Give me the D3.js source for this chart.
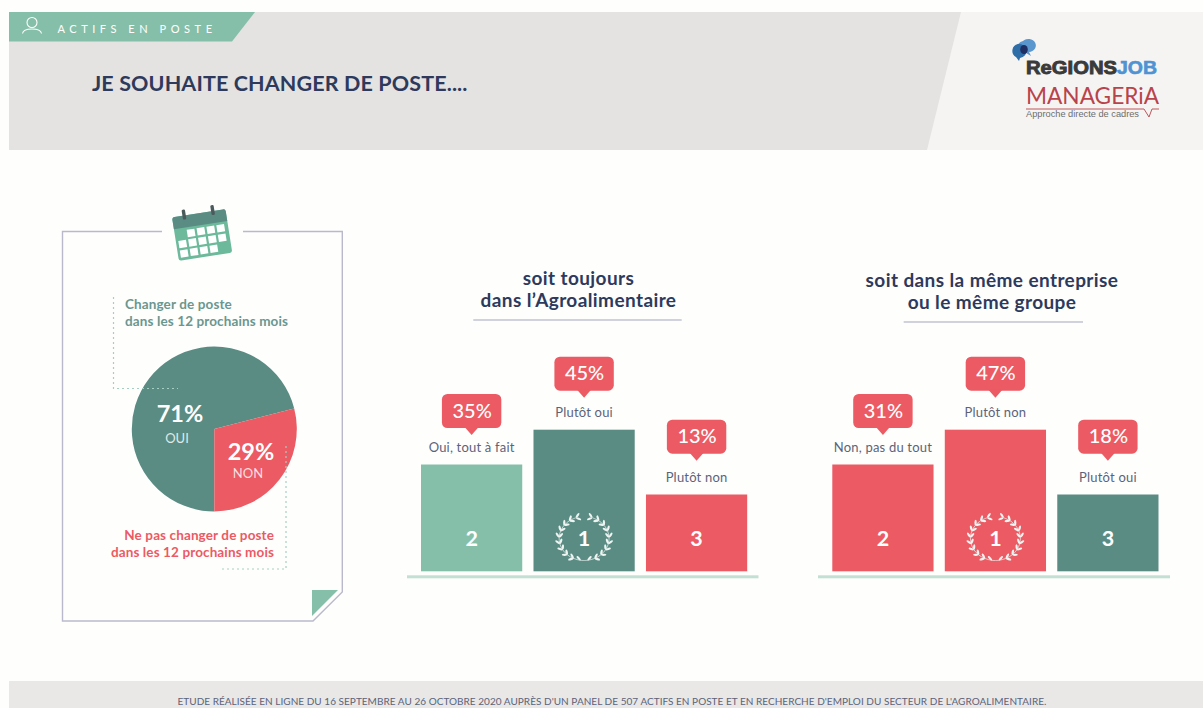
<!DOCTYPE html>
<html lang="fr">
<head>
<meta charset="utf-8">
<title>Je souhaite changer de poste</title>
<script src="https://cdn.jsdelivr.net/npm/d3@7"></script>
<style>
  html, body { margin: 0; padding: 0; background: #fefefd; }
  svg { display: block; font-family: Lato, "Open Sans", sans-serif; }
</style>
</head>
<body>
<div id="chart"></div>
<script>
// Data
const pieLabels = ["OUI", "NON"];
const pieValues = [71, 29];

const agroTitle = ["soit toujours", "dans l’Agroalimentaire"];
const agroCategories = ["Oui, tout à fait", "Plutôt oui", "Plutôt non"];
const agroValues = [35, 45, 13];
const agroRanks = [2, 1, 3];

const groupTitle = ["soit dans la même entreprise", "ou le même groupe"];
const groupCategories = ["Non, pas du tout", "Plutôt non", "Plutôt oui"];
const groupValues = [31, 47, 18];
const groupRanks = [2, 1, 3];

const footerText = "ETUDE RÉALISÉE EN LIGNE DU 16 SEPTEMBRE AU 26 OCTOBRE 2020 AUPRÈS D'UN PANEL DE 507 ACTIFS EN POSTE ET EN RECHERCHE D'EMPLOI DU SECTEUR DE L'AGROALIMENTAIRE.";

const navy = "#2d3a5c";
const teal = "#5a8c84";
const mint = "#85bfa9";
const red = "#ec5a63";
const line = "#b9b9cd";

const svg = d3.select("#chart").append("svg")
  .attr("width", 1203)
  .attr("height", 708);

function txt(parent, x, y, s, size, fill, weight, anchor, spacing) {
  return parent.append("text")
    .attr("x", x)
    .attr("y", y)
    .attr("font-size", size)
    .attr("fill", fill)
    .attr("font-weight", weight || 400)
    .attr("text-anchor", anchor || "start")
    .attr("letter-spacing", spacing || 0)
    .text(s);
}

// Header band
svg.append("rect").attr("x", 9).attr("y", 12).attr("width", 1194).attr("height", 138).attr("fill", "#f5f4f3");
svg.append("polygon").attr("points", "9,12 961,12 927,150 9,150").attr("fill", "#e4e3e1");
svg.append("polygon").attr("points", "9,12 255,12 232,41.5 9,41.5").attr("fill", mint);

// Person icon
const person = svg.append("g").attr("fill", "none").attr("stroke", "#fff").attr("stroke-width", 1.1);
person.append("circle").attr("cx", 32).attr("cy", 22.5).attr("r", 5);
person.append("path").attr("d", "M22.5,33.5 C23.5,27.5 40.5,27.5 41.5,33.5");

txt(svg, 57.5, 33, "ACTIFS EN POSTE", 11, "#fff", 400, "start", 4.55);
txt(svg, 92, 91, "JE SOUHAITE CHANGER DE POSTE....", 21.5, navy, 700, "start", 0.12);

// RegionsJob logo
const logo = svg.append("g");
logo.append("path").attr("d", "M1023,41 a7.5,6.5 0 1 1 6,11 l2,4 l-5,-3 a7,6 0 0 1 -3,-12z").attr("fill", "#5b97cf");
logo.append("path").attr("d", "M1018,44 a7.5,7 0 1 1 2,14 l-1,3 l-3,-4 a7,7 0 0 1 2,-13z").attr("fill", "#2e6da8");
logo.append("ellipse").attr("cx", 1024).attr("cy", 49.5).attr("rx", 3.8).attr("ry", 4.6).attr("fill", "#1f2f63");
txt(logo, 1026, 74, "ReGIONS", 18.5, "#3a3a3a", 700)
  .attr("font-family", "Liberation Sans").attr("stroke", "#3a3a3a").attr("stroke-width", 0.9)
  .attr("textLength", 91).attr("lengthAdjust", "spacingAndGlyphs");
txt(logo, 1117, 74, "JOB", 18.5, "#4f93d2", 700)
  .attr("font-family", "Liberation Sans").attr("stroke", "#4f93d2").attr("stroke-width", 0.6)
  .attr("textLength", 40).attr("lengthAdjust", "spacingAndGlyphs");

// Manageria logo
txt(logo, 1026, 104, "MANAGERiA", 23, "#b9434a", 400)
  .attr("textLength", 133).attr("lengthAdjust", "spacingAndGlyphs");
logo.append("path").attr("d", "M1026,109 H1144 L1149,117 L1152,109 H1159").attr("fill", "none").attr("stroke", "#b9434a").attr("stroke-width", 0.9);
txt(logo, 1026, 117, "Approche directe de cadres", 9, "#6d6d6d", 400)
  .attr("font-family", "Liberation Sans").attr("textLength", 113).attr("lengthAdjust", "spacingAndGlyphs");

// Card with folded corner
svg.append("path")
  .attr("d", "M162,231.5 H62.5 V621 H313 L342.3,592 V231.5 H243")
  .attr("fill", "none").attr("stroke", line).attr("stroke-width", 1.4);
svg.append("polygon").attr("points", "312,590 338,590 312,616").attr("fill", mint);

// Calendar icon
const cal = svg.append("g").attr("transform", "translate(202,234) rotate(-9)");
cal.append("rect").attr("x", -27).attr("y", -21).attr("width", 54).attr("height", 44).attr("rx", 2.5).attr("fill", "#6db99b");
cal.append("path").attr("d", "M-27,-9 V-18.5 a2.5,2.5 0 0 1 2.5,-2.5 H24.5 a2.5,2.5 0 0 1 2.5,2.5 V-9z").attr("fill", teal);
cal.selectAll("rect.ring").data([-15, 14]).enter().append("rect")
  .attr("class", "ring").attr("x", d => d - 1.5).attr("y", -27).attr("width", 3.4).attr("height", 10).attr("rx", 1.2).attr("fill", "#4b5b5c");
const calCells = [[1, 0], [2, 0], [3, 0], [4, 0], [0, 1], [1, 1], [2, 1], [3, 1], [4, 1], [0, 2], [1, 2], [2, 2], [3, 2]];
cal.selectAll("rect.cell").data(calCells).enter().append("rect")
  .attr("class", "cell")
  .attr("x", d => -24.5 + d[0] * 10)
  .attr("y", d => -6.5 + d[1] * 9.6)
  .attr("width", 7.8).attr("height", 7.4).attr("fill", "#fff");

// Pie
const pie = d3.pie().sort(null).startAngle(Math.PI).endAngle(3 * Math.PI);
const arc = d3.arc().innerRadius(0).outerRadius(82.5);
svg.append("g").attr("transform", "translate(214.3,429)")
  .selectAll("path")
  .data(pie(pieValues))
  .enter()
  .append("path")
  .attr("d", arc)
  .attr("fill", (d, i) => i === 0 ? teal : red);

txt(svg, 125, 309, "Changer de poste", 13.5, teal, 700, "start", 0.12).attr("opacity", 0.9);
txt(svg, 125, 326, "dans les 12 prochains mois", 13.5, teal, 700, "start", 0.12).attr("opacity", 0.9);
txt(svg, 274, 540, "Ne pas changer de poste", 13.5, red, 700, "end", 0.12);
txt(svg, 274, 557, "dans les 12 prochains mois", 13.5, red, 700, "end", 0.12);

svg.append("path").attr("d", "M113.5,297 V388.5 H178")
  .attr("fill", "none").attr("stroke", "#a5cfc2").attr("stroke-width", 1.2).attr("stroke-dasharray", "2 3");
svg.append("path").attr("d", "M286,446 V569 H222")
  .attr("fill", "none").attr("stroke", "#a5cfc2").attr("stroke-width", 1.2).attr("stroke-dasharray", "2 3");

txt(svg, 180, 422, pieValues[0] + "%", 23.5, "#fff", 700, "middle");
txt(svg, 177, 443, pieLabels[0], 13, "#dfe9e6", 400, "middle");
txt(svg, 251, 460, pieValues[1] + "%", 23.5, "#fff", 700, "middle");
txt(svg, 248, 478, pieLabels[1], 13, "#fbdfe0", 400, "middle");

// Bar heights in the picture follow the rank, not the percentage
const rankY = d3.scaleOrdinal().domain([1, 2, 3]).range([429.7, 464.5, 494.5]);
const bubbleY = d3.scaleOrdinal().domain([1, 2, 3]).range([356.7, 394, 419.7]);
const baseY = 571.3;

function wreath(g, cx, cy) {
  const w = g.append("g").attr("transform", `translate(${cx},${cy})`);
  const leaf = "#eef4f2";
  [-1, 1].forEach(side => {
    const angles = d3.range(0, 10).map(i => 8 + i * 17);
    const points = angles.map(a => {
      const r = a * Math.PI / 180;
      return [side * 25 * Math.sin(r), 22 * Math.cos(r)];
    });
    w.append("path")
      .attr("d", d3.line().curve(d3.curveCatmullRom)([[0, 22]].concat(points)))
      .attr("fill", "none").attr("stroke", leaf).attr("stroke-width", 0.7);
    points.forEach((p, i) => {
      const r = angles[i] * Math.PI / 180;
      const t = Math.atan2(-22 * Math.sin(r), side * 25 * Math.cos(r)) * 180 / Math.PI;
      [-1, 1].forEach(k => {
        if (i === 0 && k * side === 1) return;
        w.append("ellipse")
          .attr("rx", 2.8).attr("ry", 1.15)
          .attr("fill", leaf)
          .attr("transform", `translate(${p[0]},${p[1]}) rotate(${t + k * 38}) translate(2.8,0)`);
      });
    });
  });
}

function drawBars(cfg) {
  const g = svg.append("g");
  cfg.title.forEach((s, i) => {
    txt(g, cfg.titleX, cfg.titleY[i], s, 19, navy, 700, "middle", 0.4);
  });
  g.append("line")
    .attr("x1", cfg.rule[0]).attr("x2", cfg.rule[1])
    .attr("y1", cfg.ruleY).attr("y2", cfg.ruleY)
    .attr("stroke", "#a2a5bf").attr("stroke-width", 1);
  g.append("rect")
    .attr("x", cfg.base[0]).attr("y", 575.3)
    .attr("width", cfg.base[1] - cfg.base[0]).attr("height", 3)
    .attr("fill", "#c3e0d4");

  const x = d3.scaleBand()
    .domain(cfg.categories)
    .range(cfg.range)
    .paddingInner(0.1);

  cfg.categories.forEach((c, i) => {
    const left = x(c);
    const mid = left + x.bandwidth() / 2;
    const rank = cfg.ranks[i];
    const top = rankY(rank);

    g.append("rect")
      .attr("x", left).attr("y", top)
      .attr("width", x.bandwidth()).attr("height", baseY - top)
      .attr("fill", cfg.colors[i]);
    txt(g, mid, 546, rank, 21.5, "#fff", 700, "middle");
    if (rank === 1) wreath(g, mid, 538.5);

    txt(g, mid, top - 13, c, 13, "#5c6379", 400, "middle", 0.2);

    const bt = bubbleY(rank);
    g.append("rect")
      .attr("x", mid - 29.7).attr("y", bt)
      .attr("width", 59.4).attr("height", 34)
      .attr("rx", 5.5).attr("fill", red);
    g.append("path")
      .attr("d", `M${mid - 7},${bt + 33} L${mid},${bt + 41} L${mid + 7},${bt + 33}z`)
      .attr("fill", red);
    txt(g, mid + 0.5, bt + 23.5, cfg.values[i] + "%", 20, "#fff", 500, "middle");
  });
}

drawBars({
  title: agroTitle, titleX: 578.5, titleY: [285, 307],
  rule: [473.3, 681.7], ruleY: 320, base: [407, 758.5],
  range: [421, 747.2],
  categories: agroCategories, values: agroValues, ranks: agroRanks,
  colors: [mint, teal, red]
});

drawBars({
  title: groupTitle, titleX: 992, titleY: [287, 309],
  rule: [903.7, 1083], ruleY: 322, base: [818, 1170],
  range: [832.3, 1158.5],
  categories: groupCategories, values: groupValues, ranks: groupRanks,
  colors: [red, red, teal]
});

// Footer band
svg.append("rect").attr("x", 9).attr("y", 681).attr("width", 1194).attr("height", 27).attr("fill", "#e9e8e7");
txt(svg, 612, 704.5, footerText, 10, "#5c6379", 400, "middle", 0.03);
</script>
</body>
</html>
